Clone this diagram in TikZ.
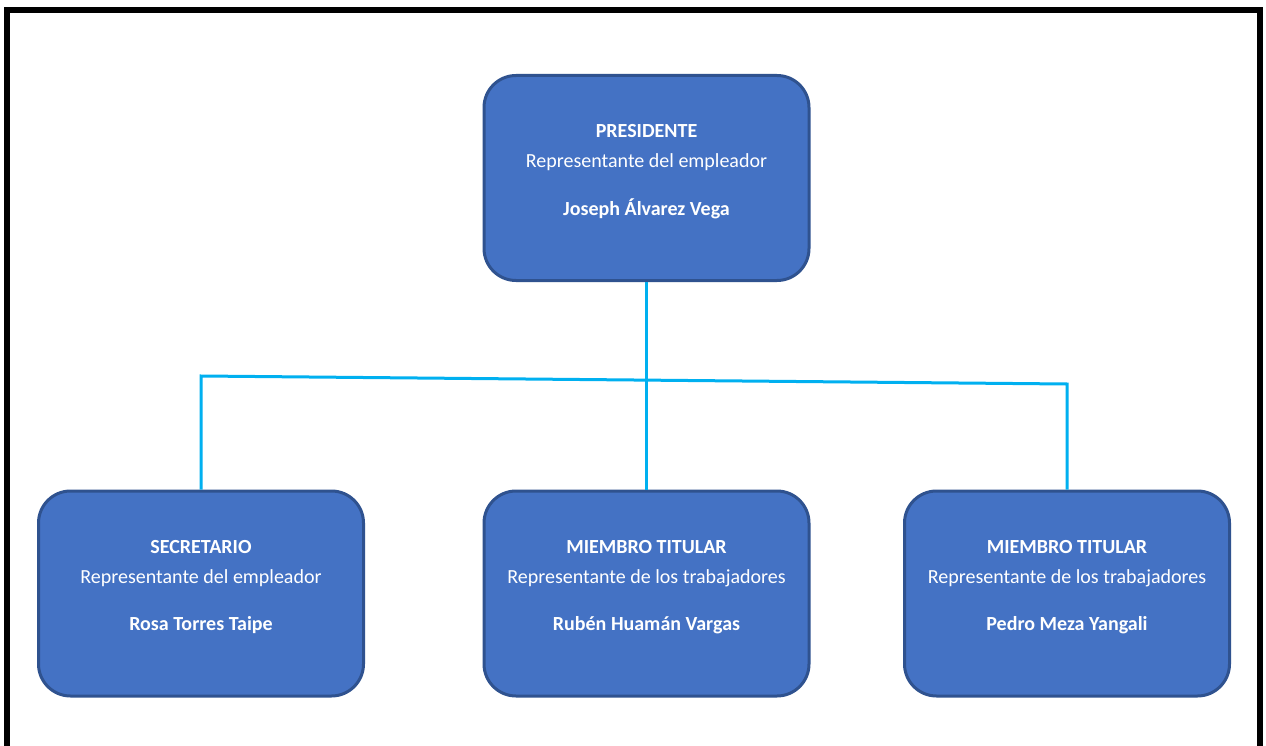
\documentclass[tikz,border=0pt]{standalone}
\usepackage{fontspec}
\setmainfont{Carlito}
\definecolor{boxfill}{HTML}{4472C4}
\definecolor{boxline}{HTML}{2F528F}
\definecolor{conn}{HTML}{00B0F0}
\begin{document}
\begin{tikzpicture}[x=1pt,y=-1pt,
  orgbox/.style={draw=boxline,fill=boxfill,line width=3pt,rounded corners=32pt,
    minimum width=325pt,minimum height=205pt,inner sep=0pt},
  txt/.style={text=white,align=center,font=\fontsize{20}{30}\selectfont,inner sep=0pt},
  connector/.style={draw=conn,line width=3pt}]
\useasboundingbox (0,0) rectangle (1266,746);
\fill[white] (0,0) rectangle (1266,746);
\begin{scope}
\clip (0,0) rectangle (1266,746);
\draw[line width=6pt,black] (7,10) rectangle (1260,780);
\end{scope}
% boxes
\node[orgbox] (pres) at (646.5,178) {};
\node[orgbox] (sec) at (201,593.5) {};
\node[orgbox] (m1) at (646.5,593.5) {};
\node[orgbox] (m2) at (1067,593.5) {};
% connectors
\coordinate (hl) at (201,376);
\coordinate (hr) at (1067,384);
\draw[connector] (pres.south) -- (m1.north);
\draw[connector,line join=miter] (sec.north) -- (hl) -- (hr) -- (m2.north);
% texts
\node[txt] (tpres) at ([yshift=6pt]pres.center) {\textbf{PRESIDENTE}\\Representante del empleador\\[18pt]\textbf{Joseph Álvarez Vega}};
\node[txt] (tsec) at ([yshift=6pt]sec.center) {\textbf{SECRETARIO}\\Representante del empleador\\[17pt]\textbf{Rosa Torres Taipe}};
\node[txt] (tm1) at ([yshift=6pt]m1.center) {\textbf{MIEMBRO TITULAR}\\Representante de los trabajadores\\[17pt]\textbf{Rubén Huamán Vargas}};
\node[txt] (tm2) at ([yshift=6pt]m2.center) {\textbf{MIEMBRO TITULAR}\\Representante de los trabajadores\\[17pt]\textbf{Pedro Meza Yangali}};
\end{tikzpicture}
\end{document}
